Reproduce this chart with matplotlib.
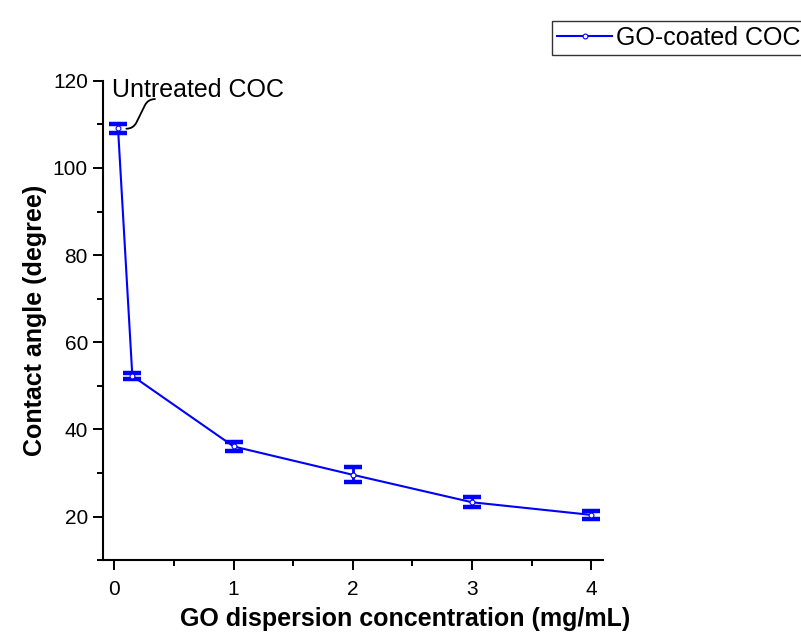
import matplotlib.pyplot as plt
from matplotlib.ticker import MultipleLocator

plt.rcParams['font.family'] = ['Liberation Sans', 'DejaVu Sans']

conc = [0.03, 0.15, 1, 2, 3, 4]
angle = [109.1, 52.3, 36.1, 29.6, 23.3, 20.4]
err = [1.0, 0.75, 1.0, 1.7, 1.15, 0.85]

fig = plt.figure(figsize=(8.01, 6.41), dpi=100)
ax = fig.add_axes([0.128, 0.126, 0.625, 0.748])

eb = ax.errorbar(
    conc,
    angle,
    yerr=err,
    fmt='none',
    ecolor='blue',
    elinewidth=2,
    capsize=6.5,
    capthick=3,
)
for cap in eb[1]:
    cap.set_markeredgewidth(3.2)

ax.plot(
    conc,
    angle,
    color='blue',
    linewidth=1.5,
    marker='o',
    markersize=3.5,
    markerfacecolor='white',
    markeredgecolor='blue',
    markeredgewidth=0.8,
    label='GO-coated COC',
)

ax.set_xlim(-0.1, 4.1)
ax.set_ylim(10, 120)
ax.xaxis.set_major_locator(MultipleLocator(1))
ax.xaxis.set_minor_locator(MultipleLocator(0.5))
ax.yaxis.set_major_locator(MultipleLocator(20))
ax.yaxis.set_minor_locator(MultipleLocator(10))
ax.tick_params(which='major', direction='out', length=7, width=1.4, labelsize=15)
ax.tick_params(axis='x', which='major', pad=7)
ax.tick_params(which='minor', direction='out', length=4, width=1.4)
ax.spines['top'].set_visible(False)
ax.spines['right'].set_visible(False)
ax.spines['left'].set_linewidth(1.5)
ax.spines['bottom'].set_linewidth(1.5)

ax.set_xlabel('GO dispersion concentration (mg/mL)', fontsize=18, fontweight='bold')
ax.xaxis.set_label_coords(0.604, -0.098)
ax.set_ylabel('Contact angle (degree)', fontsize=18, fontweight='bold', labelpad=4)

# label for the uncoated sample, with a curved leader line
ax.text(-0.02, 117.9, 'Untreated COC', fontsize=18, va='center', ha='left')
ax.annotate(
    '',
    xy=(0.1, 109.0),
    xytext=(0.34, 115.8),
    arrowprops=dict(arrowstyle='-', color='black', lw=1.3,
                    connectionstyle='arc,angleA=180,armA=7,angleB=0,armB=7,rad=7',
                    shrinkA=0, shrinkB=0),
)

fig.legend(
    loc='upper left',
    bbox_to_anchor=(552 / 801, 1 - 21 / 641),
    fontsize=18,
    frameon=True,
    fancybox=False,
    edgecolor='black',
    handlelength=2.2,
    handletextpad=0.15,
    borderpad=0.2,
    borderaxespad=0,
)

fig.savefig('out.png', dpi=100)
